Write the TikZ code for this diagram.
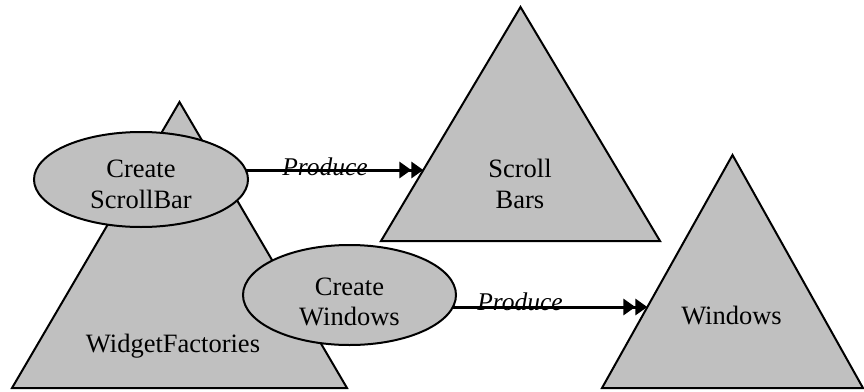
\documentclass[tikz,border=0pt]{standalone}
\usepackage{fontspec}
\setmainfont{Liberation Serif}
\usetikzlibrary{shapes.geometric,arrows.meta,calc}
\pgfdeclarelayer{trilayer}
\pgfdeclarelayer{arrlayer}
\pgfsetlayers{trilayer,arrlayer,main}
\tikzset{
  tri/.style={fill=shapegray,draw=black,line width=2pt},
  oval/.style={ellipse,fill=shapegray,draw=black,line width=2pt,inner sep=0pt,align=center,font=\bigtxt},
  txt/.style={align=center,font=\bigtxt,inner sep=0pt},
  prod/.style={font=\prodtxt,inner sep=0pt,anchor=base},
  flow/.style={line width=3pt,-{Triangle[length=12pt,width=16pt,sep=0pt]Triangle[length=12pt,width=16pt]}}
}
\definecolor{shapegray}{RGB}{192,192,192}
\newcommand{\bigtxt}{\fontsize{26.5}{32}\selectfont}
\newcommand{\prodtxt}{\fontsize{25.5}{30}\selectfont\itshape}
\begin{document}
\begin{tikzpicture}[x=1pt,y=-1pt]
\useasboundingbox (0,0) rectangle (864,391);
% triangles
\coordinate (wfA) at (179.5,102);
\coordinate (wfL) at (12,388);
\coordinate (wfR) at (347,388);
\coordinate (sbA) at (520.5,7);
\coordinate (sbL) at (381,241);
\coordinate (sbR) at (660,241);
\coordinate (wnA) at (732.5,155);
\coordinate (wnL) at (602,388);
\coordinate (wnR) at (863,388);
\begin{pgfonlayer}{trilayer}
\draw[tri] (wfA) -- (wfL) -- (wfR) -- cycle;
\draw[tri] (sbA) -- (sbL) -- (sbR) -- cycle;
\draw[tri] (wnA) -- (wnL) -- (wnR) -- cycle;
\end{pgfonlayer}
\node[txt,anchor=base] (wf) at (173,352) {WidgetFactories};
\node[txt,anchor=base] (sbt1) at (520,177) {Scroll};
\node[txt,anchor=base] (sbt2) at (520,208) {Bars};
\node[txt,anchor=base] (wn) at (731.5,324) {Windows};
% ellipses
\node[oval,minimum width=214pt,minimum height=95pt] (csb) at (141,179.5) {};
\node[txt,anchor=base] (csbt1) at (141,177) {Create};
\node[txt,anchor=base] (csbt2) at (141,208) {ScrollBar};
\node[oval,minimum width=213pt,minimum height=100pt] (cwn) at (349.5,295) {};
\node[txt,anchor=base] (cwnt1) at (349.5,295) {Create};
\node[txt,anchor=base] (cwnt2) at (349.5,325) {Windows};
% arrow end points
\coordinate (sbin) at ($(sbA)!0.6966!(sbL)$);
\coordinate (wnin) at ($(wnA)!0.6524!(wnL)$);
\begin{pgfonlayer}{arrlayer}
\draw[flow] (csb.center |- sbin) -- (sbin);
\draw[flow] (cwn.center |- wnin) -- (wnin);
\end{pgfonlayer}
\node[prod] (p1) at (325,175) {Produce};
\node[prod] (p2) at (520,310) {Produce};
\end{tikzpicture}
\end{document}
